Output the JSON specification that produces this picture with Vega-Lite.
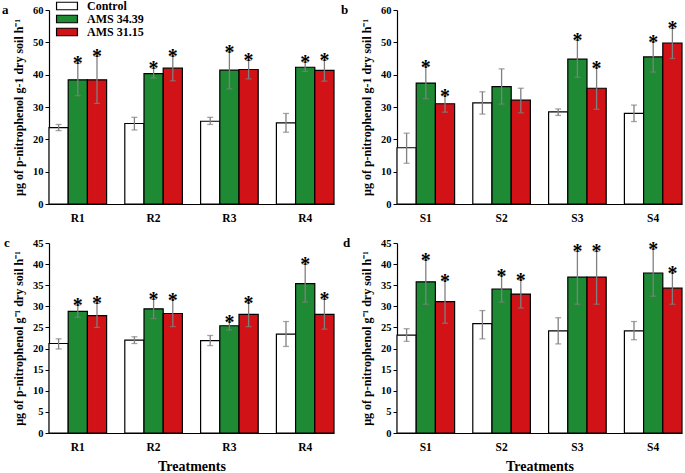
{
"$schema": "https://vega.github.io/schema/vega-lite/v6.json",
"padding": {"left": 2, "top": 0, "right": 1, "bottom": 0},
"background": "white",
"config": {
  "font": "Liberation Serif",
  "view": {"stroke": null},
  "axis": {"grid": false, "domainColor": "black", "tickColor": "black", "labelColor": "black", "titleColor": "black", "labelFont": "Liberation Serif", "titleFont": "Liberation Serif", "labelFontWeight": "bold", "titleFontWeight": "bold", "domainWidth": 1.2},
  "axisY": {"labelFontSize": 10.5, "titleFontSize": 12, "tickSize": 4, "labelPadding": 2, "titlePadding": 7},
  "axisX": {"labelFontSize": 11.5, "labelAngle": 0, "ticks": false, "labelPadding": 8, "titleFontSize": 14, "titlePadding": 7},
  "title": {"font": "Liberation Serif", "fontWeight": "bold", "fontSize": 13, "color": "black", "anchor": "start", "frame": "group"}
},
"datasets": {
  "d": [
    {"panel": "a", "trt": "R1", "grp": "Control", "mean": 23.6, "lo": 22.7, "hi": 24.6, "sig": ""},
    {"panel": "a", "trt": "R1", "grp": "AMS 34.39", "mean": 38.4, "lo": 33.5, "hi": 43.5, "sig": "*"},
    {"panel": "a", "trt": "R1", "grp": "AMS 31.15", "mean": 38.4, "lo": 31.1, "hi": 45.7, "sig": "*"},
    {"panel": "a", "trt": "R2", "grp": "Control", "mean": 24.9, "lo": 22.9, "hi": 26.8, "sig": ""},
    {"panel": "a", "trt": "R2", "grp": "AMS 34.39", "mean": 40.3, "lo": 39.0, "hi": 42.0, "sig": "*"},
    {"panel": "a", "trt": "R2", "grp": "AMS 31.15", "mean": 42.0, "lo": 38.1, "hi": 45.8, "sig": "*"},
    {"panel": "a", "trt": "R3", "grp": "Control", "mean": 25.6, "lo": 24.6, "hi": 26.8, "sig": ""},
    {"panel": "a", "trt": "R3", "grp": "AMS 34.39", "mean": 41.4, "lo": 35.6, "hi": 47.1, "sig": "*"},
    {"panel": "a", "trt": "R3", "grp": "AMS 31.15", "mean": 41.6, "lo": 38.7, "hi": 44.4, "sig": "*"},
    {"panel": "a", "trt": "R4", "grp": "Control", "mean": 25.1, "lo": 22.2, "hi": 28.0, "sig": ""},
    {"panel": "a", "trt": "R4", "grp": "AMS 34.39", "mean": 42.3, "lo": 41.0, "hi": 43.9, "sig": "*"},
    {"panel": "a", "trt": "R4", "grp": "AMS 31.15", "mean": 41.3, "lo": 38.0, "hi": 44.5, "sig": "*"},

    {"panel": "b", "trt": "S1", "grp": "Control", "mean": 17.4, "lo": 12.6, "hi": 21.9, "sig": ""},
    {"panel": "b", "trt": "S1", "grp": "AMS 34.39", "mean": 37.4, "lo": 32.6, "hi": 42.5, "sig": "*"},
    {"panel": "b", "trt": "S1", "grp": "AMS 31.15", "mean": 31.0, "lo": 28.4, "hi": 33.5, "sig": "*"},
    {"panel": "b", "trt": "S2", "grp": "Control", "mean": 31.3, "lo": 27.8, "hi": 34.7, "sig": ""},
    {"panel": "b", "trt": "S2", "grp": "AMS 34.39", "mean": 36.3, "lo": 30.9, "hi": 41.8, "sig": ""},
    {"panel": "b", "trt": "S2", "grp": "AMS 31.15", "mean": 32.1, "lo": 28.2, "hi": 35.8, "sig": ""},
    {"panel": "b", "trt": "S3", "grp": "Control", "mean": 28.5, "lo": 27.4, "hi": 29.4, "sig": ""},
    {"panel": "b", "trt": "S3", "grp": "AMS 34.39", "mean": 44.8, "lo": 39.2, "hi": 50.7, "sig": "*"},
    {"panel": "b", "trt": "S3", "grp": "AMS 31.15", "mean": 35.8, "lo": 29.3, "hi": 42.2, "sig": "*"},
    {"panel": "b", "trt": "S4", "grp": "Control", "mean": 28.0, "lo": 25.5, "hi": 30.6, "sig": ""},
    {"panel": "b", "trt": "S4", "grp": "AMS 34.39", "mean": 45.5, "lo": 40.8, "hi": 50.2, "sig": "*"},
    {"panel": "b", "trt": "S4", "grp": "AMS 31.15", "mean": 49.8, "lo": 45.0, "hi": 54.3, "sig": "*"},

    {"panel": "c", "trt": "R1", "grp": "Control", "mean": 21.2, "lo": 19.9, "hi": 22.3, "sig": ""},
    {"panel": "c", "trt": "R1", "grp": "AMS 34.39", "mean": 28.8, "lo": 27.4, "hi": 30.3, "sig": "*"},
    {"panel": "c", "trt": "R1", "grp": "AMS 31.15", "mean": 27.8, "lo": 25.0, "hi": 30.7, "sig": "*"},
    {"panel": "c", "trt": "R2", "grp": "Control", "mean": 22.0, "lo": 21.2, "hi": 22.8, "sig": ""},
    {"panel": "c", "trt": "R2", "grp": "AMS 34.39", "mean": 29.4, "lo": 27.1, "hi": 31.7, "sig": "*"},
    {"panel": "c", "trt": "R2", "grp": "AMS 31.15", "mean": 28.3, "lo": 25.2, "hi": 31.6, "sig": "*"},
    {"panel": "c", "trt": "R3", "grp": "Control", "mean": 21.9, "lo": 20.7, "hi": 23.1, "sig": ""},
    {"panel": "c", "trt": "R3", "grp": "AMS 34.39", "mean": 25.4, "lo": 24.4, "hi": 26.4, "sig": "*"},
    {"panel": "c", "trt": "R3", "grp": "AMS 31.15", "mean": 28.1, "lo": 25.2, "hi": 30.9, "sig": "*"},
    {"panel": "c", "trt": "R4", "grp": "Control", "mean": 23.4, "lo": 20.5, "hi": 26.4, "sig": ""},
    {"panel": "c", "trt": "R4", "grp": "AMS 34.39", "mean": 35.4, "lo": 31.0, "hi": 40.0, "sig": "*"},
    {"panel": "c", "trt": "R4", "grp": "AMS 31.15", "mean": 28.1, "lo": 24.6, "hi": 31.7, "sig": "*"},

    {"panel": "d", "trt": "S1", "grp": "Control", "mean": 23.2, "lo": 21.7, "hi": 24.7, "sig": ""},
    {"panel": "d", "trt": "S1", "grp": "AMS 34.39", "mean": 35.8, "lo": 30.5, "hi": 41.0, "sig": "*"},
    {"panel": "d", "trt": "S1", "grp": "AMS 31.15", "mean": 31.1, "lo": 26.0, "hi": 36.1, "sig": "*"},
    {"panel": "d", "trt": "S2", "grp": "Control", "mean": 25.9, "lo": 22.3, "hi": 29.0, "sig": ""},
    {"panel": "d", "trt": "S2", "grp": "AMS 34.39", "mean": 34.1, "lo": 31.0, "hi": 37.3, "sig": "*"},
    {"panel": "d", "trt": "S2", "grp": "AMS 31.15", "mean": 32.9, "lo": 29.6, "hi": 36.3, "sig": "*"},
    {"panel": "d", "trt": "S3", "grp": "Control", "mean": 24.2, "lo": 21.1, "hi": 27.3, "sig": ""},
    {"panel": "d", "trt": "S3", "grp": "AMS 34.39", "mean": 36.9, "lo": 30.5, "hi": 43.0, "sig": "*"},
    {"panel": "d", "trt": "S3", "grp": "AMS 31.15", "mean": 36.9, "lo": 30.5, "hi": 43.0, "sig": "*"},
    {"panel": "d", "trt": "S4", "grp": "Control", "mean": 24.2, "lo": 22.1, "hi": 26.4, "sig": ""},
    {"panel": "d", "trt": "S4", "grp": "AMS 34.39", "mean": 37.9, "lo": 32.4, "hi": 43.6, "sig": "*"},
    {"panel": "d", "trt": "S4", "grp": "AMS 31.15", "mean": 34.3, "lo": 30.5, "hi": 38.0, "sig": "*"}
  ]
},
"bounds": "flush",
"columns": 2,
"spacing": {"row": 39, "column": 63},
"concat": [
  {
   "width": 285, "height": 194,
   "data": {"name": "d"},
   "title": {"text": "a", "dx": -47, "offset": -12},
   "transform": [{"filter": "datum.panel === 'a'"}],
   "encoding": {
     "x": {"field": "trt", "type": "nominal", "scale": {"paddingInner": 0.24, "paddingOuter": 0}, "axis": {"title": null}},
     "xOffset": {"field": "grp", "type": "nominal", "sort": ["Control", "AMS 34.39", "AMS 31.15"], "scale": {"domain": ["Control", "AMS 34.39", "AMS 31.15"], "paddingInner": 0, "paddingOuter": 0}}
   },
   "layer": [
     {"mark": {"type": "bar", "stroke": "black", "strokeWidth": 1.2},
      "encoding": {
        "y": {"field": "mean", "type": "quantitative", "scale": {"domain": [0, 60]}, "axis": {"values": [0, 10, 20, 30, 40, 50, 60], "title": "µg of p-nitrophenol  g-1 dry soil h⁻¹"}},
        "color": {"field": "grp", "type": "nominal", "scale": {"domain": ["Control", "AMS 34.39", "AMS 31.15"], "range": ["#ffffff", "#1f8a34", "#d11216"]},
          "legend": {"orient": "none", "legendX": 12, "legendY": -10, "title": null, "symbolType": "M-2.5,-0.9H2.5V0.9H-2.5Z", "symbolSize": 70, "symbolStrokeColor": "black", "symbolStrokeWidth": 1.2, "symbolOpacity": 1, "labelFontSize": 12, "labelFontWeight": "bold", "labelFont": "Liberation Serif", "labelColor": "black", "rowPadding": -2, "labelOffset": 14}}
      }},
     {"mark": {"type": "rule", "color": "#808080", "strokeWidth": 1.3},
      "encoding": {"y": {"field": "lo", "type": "quantitative", "axis": {"values": [0, 10, 20, 30, 40, 50, 60], "title": "µg of p-nitrophenol  g-1 dry soil h⁻¹"}}, "y2": {"field": "hi"}}},
     {"mark": {"type": "tick", "color": "#808080", "size": 6, "thickness": 1.3},
      "encoding": {"y": {"field": "lo", "type": "quantitative", "axis": {"values": [0, 10, 20, 30, 40, 50, 60], "title": "µg of p-nitrophenol  g-1 dry soil h⁻¹"}}}},
     {"mark": {"type": "tick", "color": "#808080", "size": 6, "thickness": 1.3},
      "encoding": {"y": {"field": "hi", "type": "quantitative", "axis": {"values": [0, 10, 20, 30, 40, 50, 60], "title": "µg of p-nitrophenol  g-1 dry soil h⁻¹"}}}},
     {"mark": {"type": "text", "fontSize": 20, "fontWeight": "bold", "baseline": "alphabetic", "dy": 7, "color": "black"},
      "encoding": {"y": {"field": "hi", "type": "quantitative", "axis": {"values": [0, 10, 20, 30, 40, 50, 60], "title": "µg of p-nitrophenol  g-1 dry soil h⁻¹"}}, "text": {"field": "sig"}}}
   ]
  },
  {
   "width": 285, "height": 194,
   "data": {"name": "d"},
   "title": {"text": "b", "dx": -56, "offset": -12},
   "transform": [{"filter": "datum.panel === 'b'"}],
   "encoding": {
     "x": {"field": "trt", "type": "nominal", "scale": {"paddingInner": 0.24, "paddingOuter": 0}, "axis": {"title": null}},
     "xOffset": {"field": "grp", "type": "nominal", "sort": ["Control", "AMS 34.39", "AMS 31.15"], "scale": {"domain": ["Control", "AMS 34.39", "AMS 31.15"], "paddingInner": 0, "paddingOuter": 0}}
   },
   "layer": [
     {"mark": {"type": "bar", "stroke": "black", "strokeWidth": 1.2},
      "encoding": {
        "y": {"field": "mean", "type": "quantitative", "scale": {"domain": [0, 60]}, "axis": {"values": [0, 10, 20, 30, 40, 50, 60], "title": "µg of p-nitrophenol g-1 dry soil h⁻¹"}},
        "color": {"field": "grp", "type": "nominal", "scale": {"domain": ["Control", "AMS 34.39", "AMS 31.15"], "range": ["#ffffff", "#1f8a34", "#d11216"]}, "legend": null}
      }},
     {"mark": {"type": "rule", "color": "#808080", "strokeWidth": 1.3},
      "encoding": {"y": {"field": "lo", "type": "quantitative", "axis": {"values": [0, 10, 20, 30, 40, 50, 60], "title": "µg of p-nitrophenol g-1 dry soil h⁻¹"}}, "y2": {"field": "hi"}}},
     {"mark": {"type": "tick", "color": "#808080", "size": 6, "thickness": 1.3},
      "encoding": {"y": {"field": "lo", "type": "quantitative", "axis": {"values": [0, 10, 20, 30, 40, 50, 60], "title": "µg of p-nitrophenol g-1 dry soil h⁻¹"}}}},
     {"mark": {"type": "tick", "color": "#808080", "size": 6, "thickness": 1.3},
      "encoding": {"y": {"field": "hi", "type": "quantitative", "axis": {"values": [0, 10, 20, 30, 40, 50, 60], "title": "µg of p-nitrophenol g-1 dry soil h⁻¹"}}}},
     {"mark": {"type": "text", "fontSize": 20, "fontWeight": "bold", "baseline": "alphabetic", "dy": 7, "color": "black"},
      "encoding": {"y": {"field": "hi", "type": "quantitative", "axis": {"values": [0, 10, 20, 30, 40, 50, 60], "title": "µg of p-nitrophenol g-1 dry soil h⁻¹"}}, "text": {"field": "sig"}}}
   ]
  },
  {
   "width": 285, "height": 190,
   "data": {"name": "d"},
   "title": {"text": "c", "dx": -45, "offset": -12},
   "transform": [{"filter": "datum.panel === 'c'"}],
   "encoding": {
     "x": {"field": "trt", "type": "nominal", "scale": {"paddingInner": 0.24, "paddingOuter": 0}, "axis": {"title": "Treatments"}},
     "xOffset": {"field": "grp", "type": "nominal", "sort": ["Control", "AMS 34.39", "AMS 31.15"], "scale": {"domain": ["Control", "AMS 34.39", "AMS 31.15"], "paddingInner": 0, "paddingOuter": 0}}
   },
   "layer": [
     {"mark": {"type": "bar", "stroke": "black", "strokeWidth": 1.2},
      "encoding": {
        "y": {"field": "mean", "type": "quantitative", "scale": {"domain": [0, 45]}, "axis": {"values": [0, 5, 10, 15, 20, 25, 30, 35, 40, 45], "title": "µg of p-nitrophenol g⁻¹ dry soil h⁻¹"}},
        "color": {"field": "grp", "type": "nominal", "scale": {"domain": ["Control", "AMS 34.39", "AMS 31.15"], "range": ["#ffffff", "#1f8a34", "#d11216"]}, "legend": null}
      }},
     {"mark": {"type": "rule", "color": "#808080", "strokeWidth": 1.3},
      "encoding": {"y": {"field": "lo", "type": "quantitative", "axis": {"values": [0, 5, 10, 15, 20, 25, 30, 35, 40, 45], "title": "µg of p-nitrophenol g⁻¹ dry soil h⁻¹"}}, "y2": {"field": "hi"}}},
     {"mark": {"type": "tick", "color": "#808080", "size": 6, "thickness": 1.3},
      "encoding": {"y": {"field": "lo", "type": "quantitative", "axis": {"values": [0, 5, 10, 15, 20, 25, 30, 35, 40, 45], "title": "µg of p-nitrophenol g⁻¹ dry soil h⁻¹"}}}},
     {"mark": {"type": "tick", "color": "#808080", "size": 6, "thickness": 1.3},
      "encoding": {"y": {"field": "hi", "type": "quantitative", "axis": {"values": [0, 5, 10, 15, 20, 25, 30, 35, 40, 45], "title": "µg of p-nitrophenol g⁻¹ dry soil h⁻¹"}}}},
     {"mark": {"type": "text", "fontSize": 20, "fontWeight": "bold", "baseline": "alphabetic", "dy": 7, "color": "black"},
      "encoding": {"y": {"field": "hi", "type": "quantitative", "axis": {"values": [0, 5, 10, 15, 20, 25, 30, 35, 40, 45], "title": "µg of p-nitrophenol g⁻¹ dry soil h⁻¹"}}, "text": {"field": "sig"}}}
   ]
  },
  {
   "width": 285, "height": 190,
   "data": {"name": "d"},
   "title": {"text": "d", "dx": -54, "offset": -12},
   "transform": [{"filter": "datum.panel === 'd'"}],
   "encoding": {
     "x": {"field": "trt", "type": "nominal", "scale": {"paddingInner": 0.24, "paddingOuter": 0}, "axis": {"title": "Treatments"}},
     "xOffset": {"field": "grp", "type": "nominal", "sort": ["Control", "AMS 34.39", "AMS 31.15"], "scale": {"domain": ["Control", "AMS 34.39", "AMS 31.15"], "paddingInner": 0, "paddingOuter": 0}}
   },
   "layer": [
     {"mark": {"type": "bar", "stroke": "black", "strokeWidth": 1.2},
      "encoding": {
        "y": {"field": "mean", "type": "quantitative", "scale": {"domain": [0, 45]}, "axis": {"values": [0, 5, 10, 15, 20, 25, 30, 35, 40, 45], "title": "µg of p-nitrophenol g⁻¹ dry soil h⁻¹"}},
        "color": {"field": "grp", "type": "nominal", "scale": {"domain": ["Control", "AMS 34.39", "AMS 31.15"], "range": ["#ffffff", "#1f8a34", "#d11216"]}, "legend": null}
      }},
     {"mark": {"type": "rule", "color": "#808080", "strokeWidth": 1.3},
      "encoding": {"y": {"field": "lo", "type": "quantitative", "axis": {"values": [0, 5, 10, 15, 20, 25, 30, 35, 40, 45], "title": "µg of p-nitrophenol g⁻¹ dry soil h⁻¹"}}, "y2": {"field": "hi"}}},
     {"mark": {"type": "tick", "color": "#808080", "size": 6, "thickness": 1.3},
      "encoding": {"y": {"field": "lo", "type": "quantitative", "axis": {"values": [0, 5, 10, 15, 20, 25, 30, 35, 40, 45], "title": "µg of p-nitrophenol g⁻¹ dry soil h⁻¹"}}}},
     {"mark": {"type": "tick", "color": "#808080", "size": 6, "thickness": 1.3},
      "encoding": {"y": {"field": "hi", "type": "quantitative", "axis": {"values": [0, 5, 10, 15, 20, 25, 30, 35, 40, 45], "title": "µg of p-nitrophenol g⁻¹ dry soil h⁻¹"}}}},
     {"mark": {"type": "text", "fontSize": 20, "fontWeight": "bold", "baseline": "alphabetic", "dy": 7, "color": "black"},
      "encoding": {"y": {"field": "hi", "type": "quantitative", "axis": {"values": [0, 5, 10, 15, 20, 25, 30, 35, 40, 45], "title": "µg of p-nitrophenol g⁻¹ dry soil h⁻¹"}}, "text": {"field": "sig"}}}
   ]
  }
]
}
